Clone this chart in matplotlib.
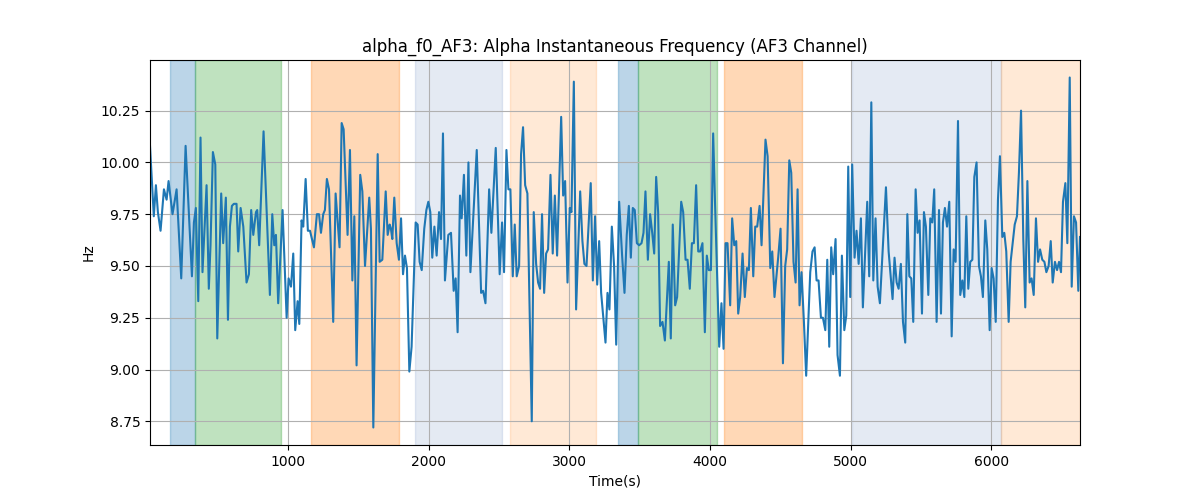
import numpy as np
import matplotlib
matplotlib.use('Agg')
import matplotlib.pyplot as plt

# time (s) and instantaneous alpha frequency (Hz)
time_s = [
    20, 47, 62, 76, 95, 119, 138, 152, 180, 209, 242, 273, 318, 332, 346, 363, 379, 393, 422, 438,
    450, 467, 484, 498, 526, 540, 559, 574, 588, 602, 616, 635, 647, 664, 683, 706, 723, 739, 754, 773,
    782, 796, 827, 872, 889, 903, 915, 931, 962, 991, 1005, 1022, 1038, 1052, 1069, 1081, 1097, 1109, 1126, 1142,
    1157, 1185, 1206, 1221, 1235, 1251, 1263, 1277, 1292, 1322, 1339, 1367, 1382, 1396, 1424, 1441, 1458, 1472, 1488, 1514,
    1529, 1548, 1578, 1590, 1607, 1638, 1652, 1671, 1695, 1709, 1723, 1732, 1742, 1756, 1773, 1789, 1804, 1818, 1832, 1846,
    1863, 1879, 1908, 1922, 1936, 1951, 1969, 1984, 1998, 2012, 2026, 2041, 2057, 2074, 2088, 2102, 2116, 2140, 2159, 2178,
    2192, 2206, 2223, 2235, 2251,
    2268, 2283, 2297, 2342, 2373, 2387, 2404, 2430, 2446, 2477, 2505, 2522, 2536, 2553, 2567, 2581, 2598, 2612, 2626, 2643,
    2657, 2671, 2686, 2702, 2733, 2747, 2764, 2778, 2792, 2806, 2821, 2835, 2849, 2866, 2882, 2897, 2913, 2942, 2956, 2970,
    2987, 3003, 3015, 3032, 3048, 3077, 3093, 3107, 3122, 3152, 3167, 3183, 3198, 3212, 3226, 3257, 3271, 3285, 3302, 3318,
    3333, 3354,
    3375, 3392, 3408, 3423, 3437, 3451, 3465, 3480, 3496, 3513, 3527, 3541, 3558, 3574, 3589, 3603, 3617, 3631, 3645, 3662,
    3679, 3707, 3721, 3735, 3752, 3766, 3795, 3809, 3826, 3840, 3856, 3871, 3885, 3901, 3916, 3930, 3946, 3963, 3977, 3991,
    4006, 4022, 4036, 4065, 4081, 4096, 4110, 4124, 4143, 4157, 4172, 4186, 4200, 4214, 4231, 4247, 4262, 4276, 4290, 4307,
    4321, 4335, 4352, 4366, 4394, 4409, 4428, 4442, 4458,
    4484, 4501, 4518, 4534, 4548, 4563, 4577, 4593, 4608, 4622, 4636, 4650, 4667, 4683, 4712, 4728, 4743, 4757, 4771, 4788,
    4802, 4819, 4833, 4847, 4861, 4875, 4892, 4906, 4923, 4937, 4954, 4968, 4982, 4996, 5010, 5027, 5041, 5056, 5072, 5086,
    5117, 5131, 5146, 5160, 5176, 5191, 5207, 5250, 5269, 5297, 5311, 5326, 5340, 5356, 5371, 5387, 5402, 5416, 5430, 5444,
    5461, 5475, 5489, 5506, 5520, 5534, 5551,
    5565, 5579, 5593, 5610, 5627, 5641, 5655, 5669, 5684, 5700, 5717, 5731, 5745, 5762, 5778, 5793, 5807, 5821, 5835, 5849,
    5864, 5878, 5894, 5911, 5925, 5939, 5956, 5970, 5987, 6001, 6015, 6030, 6046, 6060, 6077, 6091, 6105, 6122, 6136, 6165,
    6181, 6195, 6210, 6226, 6240, 6255, 6271, 6285, 6300, 6316, 6331, 6345, 6361, 6376, 6390, 6406, 6421, 6435, 6451, 6466,
    6480, 6494, 6508, 6525, 6539, 6556, 6570, 6586, 6601, 6617, 6629,
]
freq_hz = [
    10.08, 9.74, 9.89, 9.76, 9.67, 9.87, 9.82, 9.91, 9.75, 9.87, 9.44, 10.08, 9.45, 9.71, 9.78, 9.33, 10.12, 9.47, 9.89, 9.39,
    9.60, 10.05, 9.99, 9.15, 9.85, 9.61, 9.83, 9.24, 9.69, 9.79, 9.80, 9.80, 9.57, 9.78, 9.69, 9.42, 9.46, 9.77, 9.65, 9.76,
    9.77, 9.60, 10.15, 9.36, 9.75, 9.60, 9.65, 9.32, 9.77, 9.25, 9.44, 9.40, 9.56, 9.19, 9.33, 9.22, 9.72, 9.69, 9.92, 9.67,
    9.67, 9.59, 9.75, 9.75, 9.66, 9.75, 9.77, 9.92, 9.87, 9.23, 9.85, 9.59, 10.19, 10.16, 9.65, 10.06, 9.43, 9.74, 9.02, 9.94,
    9.86, 9.50, 9.83, 9.68, 8.72, 10.04, 9.52, 9.53, 9.86, 9.65, 9.70, 9.68, 9.63, 9.83, 9.61, 9.53, 9.73, 9.46, 9.55, 9.49,
    8.99, 9.11, 9.71, 9.70, 9.52, 9.48, 9.68, 9.77, 9.81, 9.76, 9.54, 9.69, 9.55, 9.76, 9.63, 10.14, 9.43, 9.65, 9.66, 9.38,
    9.44, 9.18, 9.84, 9.73, 9.94,
    9.55, 10.00, 9.47, 10.06, 9.37, 9.38, 9.32, 9.87, 9.66, 10.07, 9.46, 9.71, 9.47, 10.06, 9.87, 9.87, 9.45, 9.70, 9.45, 9.50,
    10.04, 10.17, 9.89, 9.85, 8.75, 9.76, 9.51, 9.42, 9.39, 9.75, 9.37, 9.56, 9.58, 9.94, 9.56, 9.84, 9.55, 10.22, 9.84, 9.91,
    9.42, 9.78, 9.76, 10.39, 9.29, 9.86, 9.62, 9.51, 9.50, 9.90, 9.43, 9.74, 9.41, 9.62, 9.37, 9.13, 9.37, 9.29, 9.69, 9.50,
    9.12, 9.81,
    9.55, 9.37, 9.65, 9.79, 9.54, 9.78, 9.77, 9.61, 9.60, 9.61, 9.66, 9.86, 9.53, 9.75, 9.66, 9.56, 9.93, 9.76, 9.21, 9.23,
    9.14, 9.52, 9.15, 9.70, 9.31, 9.35, 9.81, 9.76, 9.53, 9.53, 9.39, 9.61, 9.61, 9.89, 9.57, 9.57, 9.61, 9.18, 9.55, 9.48,
    9.48, 10.14, 9.79, 9.11, 9.32, 9.10, 9.61, 9.61, 9.31, 9.73, 9.60, 9.62, 9.27, 9.35, 9.56, 9.35, 9.49, 9.48, 9.78, 9.45,
    9.69, 9.69, 9.79, 9.60, 10.11, 10.03, 9.49, 9.57, 9.35,
    9.54, 9.68, 9.03, 9.50, 9.58, 10.01, 9.95, 9.52, 9.42, 9.87, 9.31, 9.47, 9.23, 8.97, 9.47, 9.57, 9.59, 9.43, 9.43, 9.25,
    9.25, 9.19, 9.53, 9.11, 9.59, 9.46, 9.63, 9.07, 8.97, 9.55, 9.19, 9.26, 9.98, 9.35, 9.99, 9.54, 9.67, 9.51, 9.73, 9.30,
    9.81, 9.45, 10.29, 9.43, 9.73, 9.40, 9.32, 9.88, 9.57, 9.34, 9.54, 9.42, 9.39, 9.51, 9.23, 9.13, 9.75, 9.45, 9.44, 9.23,
    9.87, 9.66, 9.72, 9.27, 9.76, 9.69, 9.36,
    9.73, 9.71, 9.87, 9.23, 9.77, 9.27, 9.71, 9.78, 9.69, 9.81, 9.16, 9.58, 9.52, 10.20, 9.36, 9.43, 9.35, 9.74, 9.39, 9.52,
    9.53, 9.93, 10.00, 9.50, 9.45, 9.35, 9.72, 9.58, 9.19, 9.49, 9.44, 9.23, 9.82, 10.03, 9.64, 9.66, 9.57, 9.23, 9.52, 9.70,
    9.74, 9.95, 10.25, 9.63, 9.30, 9.91, 9.42, 9.44, 9.36, 9.73, 9.52, 9.58, 9.53, 9.52, 9.47, 9.50, 9.62, 9.42, 9.52, 9.48,
    9.52, 9.47, 9.81, 9.90, 9.61, 10.41, 9.40, 9.74, 9.71, 9.38, 9.64,
]

# shaded task segments: start, end, colour, alpha
seg_start = [161, 342, 1163, 1903, 2578, 3348, 3490, 4100, 5007, 6071]
seg_end = [342, 948, 1786, 2519, 3188, 3490, 4048, 4652, 6071, 6629]
seg_color = ['tab:blue', 'tab:green', 'tab:orange', '#4c72b0', 'tab:orange',
             'tab:blue', 'tab:green', 'tab:orange', '#4c72b0', 'tab:orange']
seg_alpha = [0.3, 0.3, 0.3, 0.15, 0.17, 0.3, 0.3, 0.3, 0.15, 0.17]

fig, ax = plt.subplots(figsize=(12, 5))

for s, e, c, a in zip(seg_start, seg_end, seg_color, seg_alpha):
    ax.axvspan(s, e, color=c, alpha=a)

ax.plot(time_s, freq_hz, color='tab:blue', linewidth=1.5)

ax.set_xlim(time_s[0], time_s[-1])
ax.set_title('alpha_f0_AF3: Alpha Instantaneous Frequency (AF3 Channel)')
ax.set_xlabel('Time(s)')
ax.set_ylabel('Hz')
ax.grid(True)

fig.savefig('out.png', dpi=100)
